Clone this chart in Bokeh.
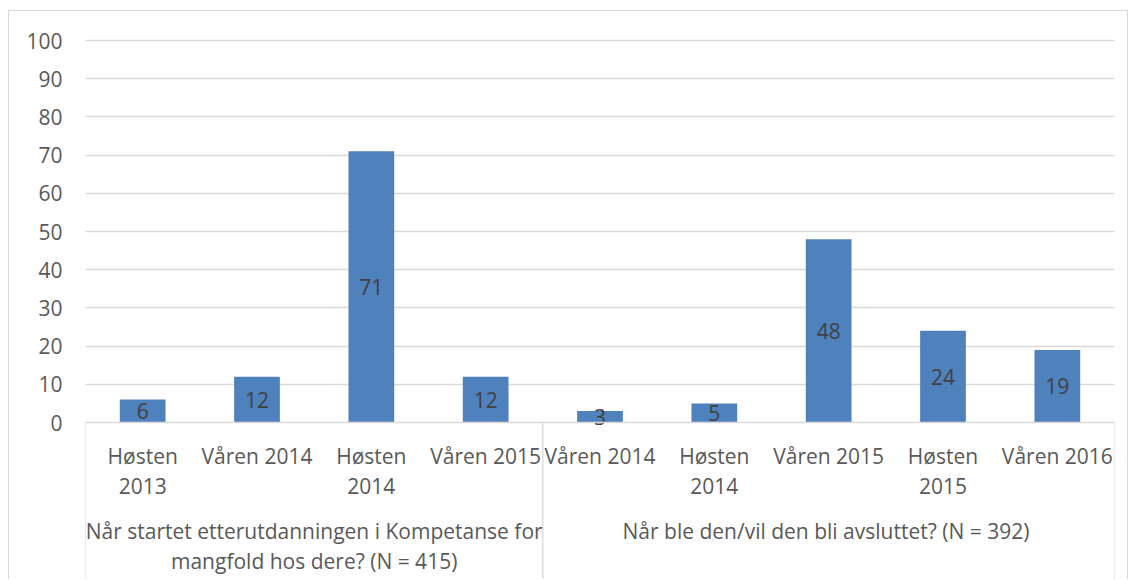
import numpy as np
from bokeh.plotting import figure
from bokeh.models import Range1d, FixedTicker, ColumnDataSource
from bokeh.core.properties import value
from bokeh.embed import file_html
from bokeh.resources import INLINE

# ---- data ----
groups = ["Når startet etterutdanningen i Kompetanse for\nmangfold hos dere? (N = 415)",
          "Når ble den/vil den bli avsluttet?  (N = 392)"]
group_sizes = [4, 5]
categories = ["Høsten\n2013", "Våren 2014", "Høsten\n2014", "Våren 2015",
              "Våren 2014", "Høsten\n2014", "Våren 2015", "Høsten\n2015", "Våren 2016"]
values = [6, 12, 71, 12, 3, 5, 48, 24, 19]
y_ticks = list(range(0, 101, 10))

FONT = "Open Sans"
BAR = "#4F81BD"
GRID = "#D9D9D9"
AXTXT = "#595959"
LBLTXT = "#404040"

n = len(categories)
xs = np.arange(n) + 0.5
px_per_unit = 3.82
y_start = -(580 - 422) / px_per_unit
y_end = (422 - 18) / px_per_unit

p = figure(width=1120, height=569, output_backend="svg", toolbar_location=None,
           x_range=Range1d(0, n), y_range=Range1d(y_start, y_end),
           min_border_left=76, min_border_right=15, min_border_top=7, min_border_bottom=0)
p.styles = {"margin-left": "8px", "margin-top": "10px",
            "border-left": "1px solid #D9D9D9", "border-top": "1px solid #D9D9D9",
            "border-right": "1px solid #D9D9D9"}
p.outline_line_color = None
p.background_fill_color = "white"
p.border_fill_color = "white"

p.xaxis.visible = False
p.xgrid.visible = False
p.yaxis.ticker = FixedTicker(ticks=y_ticks)
p.yaxis.axis_line_color = None
p.yaxis.major_tick_line_color = None
p.yaxis.minor_tick_line_color = None
p.yaxis.major_tick_out = 0
p.yaxis.major_tick_in = 0
p.yaxis.major_label_standoff = 23
p.yaxis.major_label_text_font = FONT
p.yaxis.major_label_text_font_size = "21px"
p.yaxis.major_label_text_color = AXTXT
p.ygrid.ticker = FixedTicker(ticks=y_ticks[1:])
p.ygrid.grid_line_color = GRID
p.ygrid.grid_line_width = 1.3

# bars
src = ColumnDataSource(dict(x=xs, top=values, mid=[v / 2 for v in values],
                            lbl=[str(v) for v in values]))
p.vbar(x="x", top="top", bottom=0, width=0.4, source=src, fill_color=BAR, line_color=None)
p.text(x="x", y="mid", text="lbl", source=src, text_align="center", text_baseline="middle",
       text_font=value(FONT), text_font_size="21px", text_color=LBLTXT)

# axis line and group separators
p.segment(x0=[0], y0=[0], x1=[n], y1=[0], line_color=GRID, line_width=1.3)
bounds = np.concatenate([[0], np.cumsum(group_sizes)])
p.segment(x0=bounds, y0=[0] * len(bounds), x1=bounds, y1=[y_start] * len(bounds),
          line_color=GRID, line_width=1.3)

# category labels
line_gap = 30 / px_per_unit
cx, cy, ct = [], [], []
for i, c in enumerate(categories):
    for j, part in enumerate(c.split("\n")):
        cx.append(xs[i]); cy.append(-33 / px_per_unit - j * line_gap); ct.append(part)
p.text(x=cx, y=cy, text=ct, text_align="center", text_baseline="middle",
       text_font=value(FONT), text_font_size="21px", text_color=AXTXT)

# group labels
gx, gy, gt = [], [], []
for k, g in enumerate(groups):
    center = (bounds[k] + bounds[k + 1]) / 2
    for j, part in enumerate(g.split("\n")):
        gx.append(center); gy.append(-108 / px_per_unit - j * 30 / px_per_unit); gt.append(part)
p.text(x=gx, y=gy, text=gt, text_align="center", text_baseline="middle",
       text_font=value(FONT), text_font_size="21px", text_color=AXTXT)

open("out.html", "w").write(file_html(p, INLINE))
